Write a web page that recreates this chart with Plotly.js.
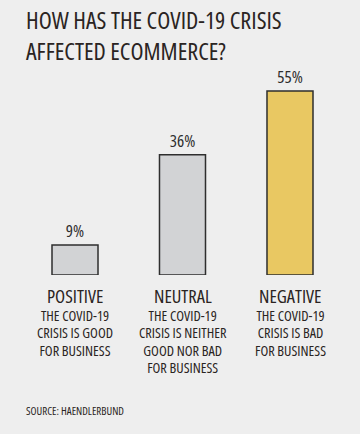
<!DOCTYPE html>
<html>
<head>
<meta charset="utf-8">
<script src="https://cdn.plot.ly/plotly-3.0.1.min.js"></script>
<style>
html,body{margin:0;padding:0;background:#eeeeee;}
#chart{width:360px;height:434px;}
svg text{font-stretch:condensed !important;}
</style>
</head>
<body>
<div id="chart"></div>
<script>
const categories = ["POSITIVE", "NEUTRAL", "NEGATIVE"];
const descriptionLines = [
  ["THE COVID-19", "CRISIS IS GOOD", "FOR BUSINESS"],
  ["THE COVID-19", "CRISIS IS NEITHER", "GOOD NOR BAD", "FOR BUSINESS"],
  ["THE COVID-19", "CRISIS IS BAD", "FOR BUSINESS"]
];
const values = [9, 36, 55];
const valueLabels = ["9%", "36%", "55%"];
const barColors = ["#d2d3d5", "#d2d3d5", "#e9c862"];
const titleLines = ["HOW HAS THE COVID-19 CRISIS", "AFFECTED ECOMMERCE?"];
const sourceText = "SOURCE: HAENDLERBUND";

const FONT = "'Open Sans', sans-serif";
const DARK = "#2a2422";

// pixel row -> paper coordinate (plot area spans rows 60..275)
const py = p => (275 - p) / 215;

const trace = {
  type: "bar",
  x: categories.map((c, i) => i),
  y: values,
  width: 0.428,
  marker: {color: barColors, line: {color: "#2e2e2e", width: 1.5}},
  text: valueLabels,
  textposition: "outside",
  textfont: {family: FONT, size: 17, color: "#2e2e2e"},
  cliponaxis: false,
  hoverinfo: "skip"
};

const annotations = [];
annotations.push({
  x: 24/360, xref: "paper", xanchor: "left",
  y: py(1.3), yref: "paper", yanchor: "top",
  text: titleLines.join("<br>"), showarrow: false, align: "left",
  font: {family: FONT, size: 24, color: DARK, weight: 500}
});
categories.forEach((c, i) => {
  annotations.push({
    x: i, xref: "x", xanchor: "center",
    y: py(295), yref: "paper", yanchor: "middle",
    text: c, showarrow: false,
    font: {family: FONT, size: 18.5, color: DARK}
  });
  const block = descriptionLines[i]
    .map(l => '<span style="font-size:14.3px">' + l + '</span>')
    .join("<br>");
  annotations.push({
    x: i, xref: "x", xanchor: "center",
    y: py(303.8), yref: "paper", yanchor: "top",
    text: block, showarrow: false, align: "center",
    font: {family: FONT, size: 13.46, color: DARK}
  });
});
annotations.push({
  x: 24/360, xref: "paper", xanchor: "left",
  y: py(410.5), yref: "paper", yanchor: "middle",
  text: sourceText, showarrow: false, font: {family: FONT, size: 11, color: DARK}
});

const layout = {
  width: 360, height: 434,
  margin: {l: 0, r: 0, t: 60, b: 159},
  paper_bgcolor: "#eeeeee", plot_bgcolor: "#eeeeee",
  showlegend: false,
  xaxis: {range: [-0.6977, 2.6512], visible: false, fixedrange: true},
  yaxis: {range: [0, 64.3], visible: false, fixedrange: true},
  annotations: annotations
};

Plotly.newPlot("chart", [trace], layout, {displayModeBar: false, staticPlot: true});
</script>
</body>
</html>
